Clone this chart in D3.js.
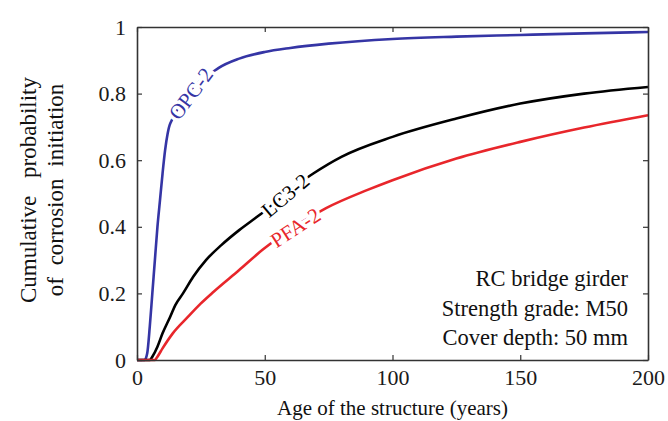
<!DOCTYPE html>
<html>
<head>
<meta charset="utf-8">
<script src="https://cdn.jsdelivr.net/npm/d3@7"></script>
<style>
  html, body { margin: 0; padding: 0; background: #fff; }
  svg { display: block; }
  text { font-family: "Liberation Serif", "Times New Roman", serif; fill: #111; }
</style>
</head>
<body>
<div id="chart"></div>
<script>
// Age of structure (years) and cumulative probability of corrosion initiation
const opcYears  = [0, 3, 4, 5, 6, 7, 8, 9, 10, 11, 12, 13, 32, 40, 50, 60, 75, 100, 125, 150, 175, 200];
const opcValues = [0, 0, 0.02, 0.1, 0.2, 0.3, 0.4, 0.48, 0.56, 0.63, 0.68, 0.71, 0.877, 0.905, 0.925, 0.937, 0.95, 0.964, 0.971, 0.976, 0.981, 0.985];

const lc3Years  = [0, 5, 6, 8, 10, 13, 15, 18, 22, 27, 33, 40, 47, 69, 80, 100, 125, 150, 175, 200];
const lc3Values = [0, 0, 0.01, 0.04, 0.08, 0.13, 0.165, 0.2, 0.25, 0.3, 0.345, 0.39, 0.43, 0.56, 0.61, 0.67, 0.725, 0.77, 0.80, 0.82];

const pfaYears  = [0, 7, 8, 10, 14, 20, 25, 30, 40, 49, 74, 90, 100, 125, 150, 175, 200];
const pfaValues = [0, 0, 0.01, 0.035, 0.08, 0.13, 0.17, 0.205, 0.27, 0.33, 0.456, 0.51, 0.54, 0.605, 0.655, 0.698, 0.735];

const xTicks = [0, 50, 100, 150, 200];
const yTicks = [0, 0.2, 0.4, 0.6, 0.8, 1];
const yTickLabels = ["0", "0.2", "0.4", "0.6", "0.8", "1"];

const noteLines = ["RC bridge girder", "Strength grade: M50", "Cover depth: 50 mm"];

const series = [
  { name: "OPC-2", years: opcYears, values: opcValues, color: "#3535a5", labelAt: [21, 0.80], angle: -53 },
  { name: "LC3-2", years: lc3Years, values: lc3Values, color: "#000000", labelAt: [58, 0.495], angle: -40 },
  { name: "PFA-2", years: pfaYears, values: pfaValues, color: "#e8262b", labelAt: [62, 0.398], angle: -33 }
];

const W = 668, H = 421;
const margin = { left: 137, right: 20, top: 27, bottom: 61 };

const svg = d3.select("#chart").append("svg")
  .attr("width", W).attr("height", H);

const x = d3.scaleLinear().domain([0, 200]).range([margin.left, W - margin.right]);
const y = d3.scaleLinear().domain([0, 1]).range([H - margin.bottom, margin.top]);

const frameColor = "#333";
const fontSize = 22;

// curves
const line = d3.line()
  .x(d => x(d[0])).y(d => y(d[1]))
  .curve(d3.curveMonotoneX);

const plot = svg.append("g");
series.forEach(s => {
  const pts = s.years.map((yr, i) => [yr, s.values[i]]);
  plot.append("path")
    .datum(pts)
    .attr("d", line)
    .attr("fill", "none")
    .attr("stroke", s.color)
    .attr("stroke-width", 2.6)
    .attr("stroke-linejoin", "round");
});

// curve labels sitting on the curves
series.forEach(s => {
  const px = x(s.labelAt[0]), py = y(s.labelAt[1]);
  svg.append("text")
    .attr("transform", `translate(${px},${py}) rotate(${s.angle})`)
    .attr("text-anchor", "middle")
    .attr("dy", "0.35em")
    .attr("font-size", 21)
    .style("fill", s.color)
    .style("stroke", "#fff")
    .style("stroke-width", 7)
    .style("paint-order", "stroke")
    .text(s.name);
});

// axes with inward ticks on all four sides
const tickLen = 5;
const axB = svg.append("g").attr("transform", `translate(0,${y(0)})`)
  .call(d3.axisBottom(x).tickValues(xTicks).tickSizeInner(-tickLen).tickSizeOuter(0).tickPadding(9));
const axT = svg.append("g").attr("transform", `translate(0,${y(1)})`)
  .call(d3.axisTop(x).tickValues(xTicks).tickSizeInner(-tickLen).tickSizeOuter(0).tickFormat(""));
const axL = svg.append("g").attr("transform", `translate(${x(0)},0)`)
  .call(d3.axisLeft(y).tickValues(yTicks).tickSizeInner(-tickLen).tickSizeOuter(0).tickPadding(11)
    .tickFormat((d, i) => yTickLabels[i]));
const axR = svg.append("g").attr("transform", `translate(${x(200)},0)`)
  .call(d3.axisRight(y).tickValues(yTicks).tickSizeInner(-tickLen).tickSizeOuter(0).tickFormat(""));

[axB, axT, axL, axR].forEach(g => {
  g.selectAll(".domain").attr("stroke", frameColor).attr("stroke-width", 1.6);
  g.selectAll(".tick line").attr("stroke", frameColor).attr("stroke-width", 1.2);
  g.selectAll(".tick text")
    .attr("font-family", "Liberation Serif, serif")
    .attr("font-size", fontSize)
    .style("fill", "#1a1a1a");
});

// axis titles
svg.append("text")
  .attr("x", (x(0) + x(200)) / 2)
  .attr("y", 415)
  .attr("text-anchor", "middle")
  .attr("font-size", 21)
  .text("Age of the structure (years)");

const yMid = 190;
const yTitle = svg.append("g").attr("transform", `translate(0,${yMid}) rotate(-90)`);
yTitle.append("text").attr("x", 0).attr("y", 36).attr("text-anchor", "middle")
  .attr("font-size", 23).attr("word-spacing", 12).text("Cumulative probability");
yTitle.append("text").attr("x", 0).attr("y", 63).attr("text-anchor", "middle")
  .attr("font-size", 23).attr("word-spacing", 6).text("of corrosion initiation");

// note block, right aligned inside the frame
const note = svg.append("text")
  .attr("text-anchor", "end")
  .attr("font-size", 22.5);
noteLines.forEach((t, i) => {
  note.append("tspan").attr("x", 628).attr("y", 286 + i * 29.5).text(t);
});
</script>
</body>
</html>
